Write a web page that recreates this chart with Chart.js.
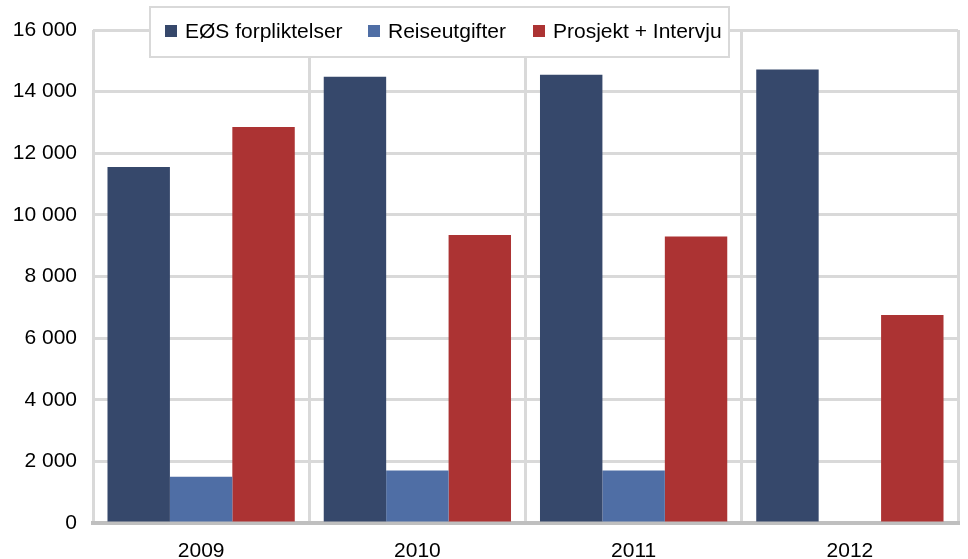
<!DOCTYPE html>
<html>
<head>
<meta charset="utf-8">
<script src="https://cdn.jsdelivr.net/npm/chart.js@4"></script>
<style>
  html, body { margin: 0; padding: 0; background: #fff; }
  #wrap { width: 968px; height: 559px; position: relative; }
</style>
</head>
<body>
<div id="wrap"><canvas id="chart"></canvas></div>
<script>
const years = ['2009', '2010', '2011', '2012'];
const eosValues = [11550, 14480, 14550, 14720];
const reiseValues = [1500, 1700, 1700, 0];
const prosjektValues = [12850, 9350, 9300, 6750];
const seriesNames = ['EØS forpliktelser', 'Reiseutgifter', 'Prosjekt + Intervju'];
const seriesColors = ['#36486b', '#4f6ea5', '#ac3333'];

const FONT = 'Liberation Sans, Arial, sans-serif';

function spaceThousands(v) {
    return String(v).replace(/\B(?=(\d{3})+(?!\d))/g, ' ');
}

// legend sits on top of the plot, inside a boxed frame
const boxedLegend = {
    id: 'boxedLegend',
    afterDraw(chart) {
        const ctx = chart.ctx;
        const box = { x: 150, y: 7, w: 579, h: 50 };
        const items = [165, 368, 533];
        ctx.save();
        ctx.fillStyle = '#fff';
        ctx.fillRect(box.x, box.y, box.w, box.h);
        ctx.strokeStyle = '#d9d9d9';
        ctx.lineWidth = 2;
        ctx.strokeRect(box.x, box.y, box.w, box.h);
        ctx.font = '21px ' + FONT;
        ctx.textBaseline = 'middle';
        chart.data.datasets.forEach((ds, i) => {
            const x = items[i];
            ctx.fillStyle = ds.backgroundColor;
            ctx.fillRect(x, 25, 12, 12);
            ctx.fillStyle = '#000';
            ctx.fillText(ds.label, x + 20, 32);
        });
        ctx.restore();
    }
};

new Chart(document.getElementById('chart'), {
    type: 'bar',
    data: {
        labels: years,
        datasets: [
            { label: seriesNames[0], data: eosValues, backgroundColor: seriesColors[0] },
            { label: seriesNames[1], data: reiseValues, backgroundColor: seriesColors[1] },
            { label: seriesNames[2], data: prosjektValues, backgroundColor: seriesColors[2] }
        ]
    },
    options: {
        responsive: true,
        maintainAspectRatio: false,
        animation: false,
        layout: { padding: { top: 30, right: 10, bottom: 0, left: 0 } },
        datasets: {
            bar: { barPercentage: 1, categoryPercentage: 0.866, borderWidth: 0 }
        },
        plugins: {
            legend: { display: false },
            tooltip: { enabled: false }
        },
        scales: {
            x: {
                afterFit: s => { s.height = 36; },
                grid: { offset: true, color: '#d9d9d9', lineWidth: 3, drawTicks: false },
                border: { color: '#bfbfbf', width: 4 },
                ticks: { color: '#000', font: { family: FONT, size: 21 }, padding: 16 }
            },
            y: {
                min: 0,
                max: 16000,
                afterFit: s => { s.width = 93; },
                grid: { color: '#d9d9d9', lineWidth: 3, drawTicks: false },
                border: { display: false },
                ticks: {
                    stepSize: 2000,
                    color: '#000',
                    font: { family: FONT, size: 21 },
                    padding: 16,
                    callback: v => spaceThousands(v)
                }
            }
        }
    },
    plugins: [boxedLegend]
});
</script>
</body>
</html>
